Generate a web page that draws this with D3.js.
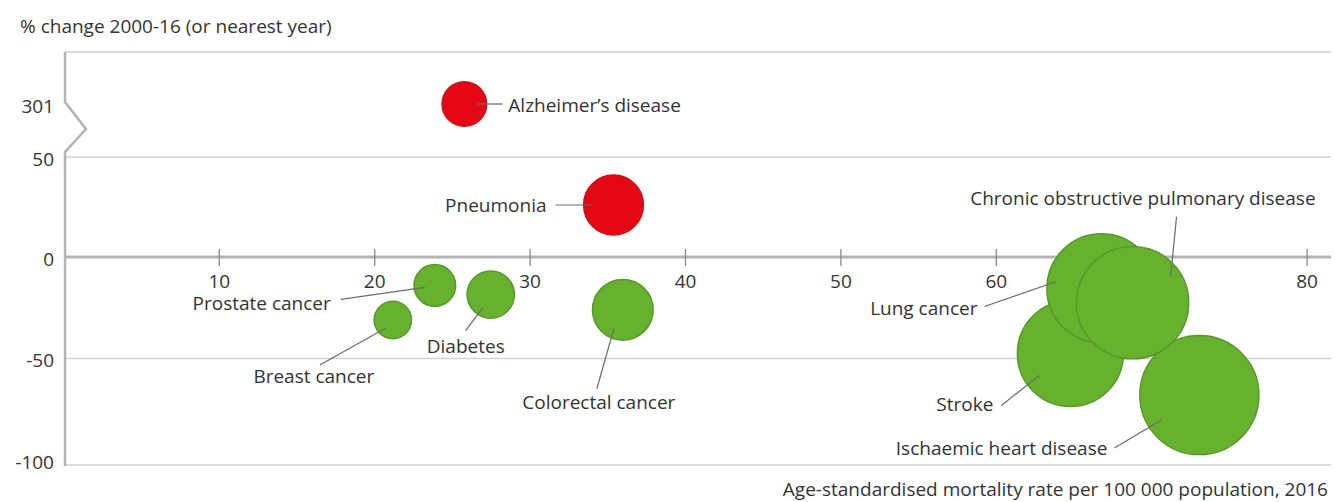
<!DOCTYPE html>
<html>
<head>
<meta charset="utf-8">
<script src="https://cdn.jsdelivr.net/npm/d3@7"></script>
<style>
  body { margin: 0; background: #fff; }
  text { font-family: "Open Sans", sans-serif; fill: #333; }
</style>
</head>
<body>
<svg width="1335" height="502"></svg>
<script>
// values
const diseases = ["Alzheimer’s disease", "Pneumonia", "Prostate cancer", "Breast cancer", "Diabetes",
  "Colorectal cancer", "Stroke", "Ischaemic heart disease", "Lung cancer",
  "Chronic obstructive pulmonary disease"];
const mortalityRate = [25.8, 35.4, 23.9, 21.2, 27.5, 36.0, 64.8, 73.1, 66.8, 68.8];
const pctChange = [301, 26, -14, -31, -18.5, -26, -47.5, -68, -15.5, -22.5];
const xTicks = [10, 20, 30, 40, 50, 60, 70, 80];
const yTicks = [-100, -50, 0, 50];
const yBreakTicks = [301];

const fontSize = "19px";

// label placement, pixel offsets from the bubble centre
const labelLayout = {
  "Alzheimer’s disease": { anchor: "start", tx: 44, ty: 1, line: [13, 0, 38, 0] },
  "Pneumonia": { anchor: "end", tx: -67, ty: 0, line: [-58, 0, -21, 0] },
  "Prostate cancer": { anchor: "end", tx: -104, ty: 18, line: [-94, 14, -10, 2] },
  "Breast cancer": { anchor: "middle", tx: -79, ty: 56, line: [-73, 45, -7, 8] },
  "Diabetes": { anchor: "middle", tx: -25, ty: 52, line: [-25, 36, -8, 13] },
  "Colorectal cancer": { anchor: "middle", tx: -24, ty: 93, line: [-26, 79, -9, 19] },
  "Stroke": { anchor: "end", tx: -77, ty: 51, line: [-69, 52, -31, 22] },
  "Ischaemic heart disease": { anchor: "end", tx: -92, ty: 53, line: [-85, 53, -38, 25] },
  "Lung cancer": { anchor: "end", tx: -124, ty: 20, line: [-117, 18, -45, -7] },
  "Chronic obstructive pulmonary disease": { anchor: "end", tx: 183, ty: -104, line: [44, -86, 38, -25] }
};

const data = diseases.map((d, i) => ({ name: d, rate: mortalityRate[i], change: pctChange[i] }));

const svg = d3.select("svg");
const plotLeft = 65, plotRight = 1331, plotTop = 52;

const x = d3.scaleLinear().domain([0, 80]).range([63.4, 1306.6]);
// broken axis: -100..50 linear, then a jump up to 301
const y = d3.scaleLinear().domain([-100, 0, 50, 301]).range([460, 257, 157, 104]);
const r = d3.scaleLinear().domain([0, 80]).range([2, 65]);
const plotBottom = y(-100) + 5;

// grid / frame lines
const grid = svg.append("g");
[plotTop, y(50), y(-50), plotBottom].forEach(yy => {
  grid.append("line").attr("x1", plotLeft).attr("x2", plotRight).attr("y1", yy).attr("y2", yy)
    .attr("stroke", "#d2d2d2").attr("stroke-width", 1.5);
});

// y axis with break mark
const b1 = y(301) - 2, b2 = y(50) - 5, bm = (b1 + b2) / 2 + 2;
svg.append("path")
  .attr("d", `M${plotLeft},${plotTop}L${plotLeft},${b1}L${plotLeft + 21},${bm}L${plotLeft},${b2}L${plotLeft},${plotBottom + 1}`)
  .attr("fill", "none").attr("stroke", "#b3b3b3").attr("stroke-width", 2.5);

// x axis on the zero line
svg.append("line").attr("x1", plotLeft).attr("x2", plotRight).attr("y1", y(0)).attr("y2", y(0))
  .attr("stroke", "#b3b3b3").attr("stroke-width", 3);

const xAxis = svg.append("g").attr("transform", `translate(0,${y(0)})`)
  .call(d3.axisBottom(x).tickValues(xTicks).tickSize(9).tickPadding(0));
xAxis.select(".domain").remove();
xAxis.selectAll(".tick line").attr("y1", -8).attr("y2", 9).attr("stroke", "#8a8a8a").attr("stroke-width", 1.3);
xAxis.selectAll(".tick text").attr("y", 24).attr("dy", "0.35em")
  .style("font-family", '"Open Sans", sans-serif').style("font-size", fontSize).style("fill", "#333");

// y tick labels
svg.append("g").selectAll("text").data(yTicks.concat(yBreakTicks)).join("text")
  .attr("x", 54).attr("y", d => y(d) + 2).attr("dy", "0.35em")
  .attr("text-anchor", "end").style("font-size", fontSize)
  .text(d => d);

// axis titles
svg.append("text").attr("x", 20).attr("y", 26).attr("dy", "0.35em").style("font-size", fontSize)
  .text("% change 2000-16 (or nearest year)");
svg.append("text").attr("x", 1328).attr("y", 489).attr("dy", "0.35em").attr("text-anchor", "end")
  .style("font-size", fontSize)
  .text("Age-standardised mortality rate per 100 000 population, 2016");

// bubbles
svg.append("g").selectAll("circle").data(data).join("circle")
  .attr("cx", d => x(d.rate)).attr("cy", d => y(d.change)).attr("r", d => r(d.rate))
  .attr("fill", d => d.change > 0 ? "#e30613" : "#66b22e")
  .attr("stroke", d => d.change > 0 ? "#c8101a" : "#58982a")
  .attr("stroke-width", 1.5);

// leader lines and labels
const ann = svg.append("g");
data.forEach(d => {
  const L = labelLayout[d.name];
  const cx = x(d.rate), cy = y(d.change);
  ann.append("line")
    .attr("x1", cx + L.line[0]).attr("y1", cy + L.line[1])
    .attr("x2", cx + L.line[2]).attr("y2", cy + L.line[3])
    .attr("stroke", "#6b6b6b").attr("stroke-width", 1.2);
  ann.append("text")
    .attr("x", cx + L.tx).attr("y", cy + L.ty).attr("dy", "0.35em")
    .attr("text-anchor", L.anchor).style("font-size", fontSize)
    .text(d.name);
});
</script>
</body>
</html>
